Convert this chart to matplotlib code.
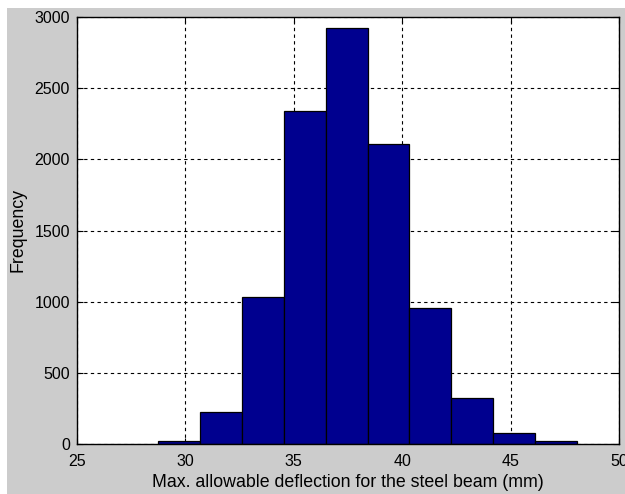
import matplotlib
matplotlib.use('Agg')
import matplotlib.pyplot as plt
import numpy as np
from matplotlib.patches import Rectangle

plt.rcParams['font.family'] = ['Liberation Sans', 'DejaVu Sans']

# MATLAB hist() with 10 bins
bin_edges = [28.75, 30.68, 32.61, 34.54, 36.47, 38.40, 40.33, 42.26, 44.19, 46.12, 48.05]
counts = [18, 222, 1035, 2342, 2920, 2110, 955, 322, 78, 22]

fig = plt.figure(figsize=(6.25, 4.94), dpi=100, facecolor='white')
# grey figure area, image is cropped with a thin white border top/left
fig.patches.append(Rectangle((7 / 625, 0), 1, (494 - 8) / 494, transform=fig.transFigure,
                             facecolor='#cccccc', edgecolor='none', zorder=-10))

ax = fig.add_axes([77 / 625, (494 - 444) / 494, (619 - 77) / 625, (444 - 17) / 494])
ax.set_zorder(1)
ax.set_facecolor('white')

widths = np.diff(bin_edges)
ax.bar(bin_edges[:-1], counts, width=widths, align='edge', color='#00008f',
       edgecolor='black', linewidth=0.9, zorder=3)

ax.set_xlim(25, 50)
ax.set_ylim(0, 3000)
ax.set_xticks(np.arange(25, 51, 5))
ax.set_yticks(np.arange(0, 3001, 500))
ax.grid(True, color='black', linestyle=(0, (3, 3)), linewidth=0.8, zorder=1)
ax.set_axisbelow(True)
ax.tick_params(direction='in', top=True, right=True, length=4, labelsize=11.5, colors='black')
ax.tick_params(axis='x', pad=7)
ax.tick_params(axis='y', pad=5)
for s in ax.spines.values():
    s.set_linewidth(1.0)
    s.set_zorder(4)

ax.set_xlabel('Max. allowable deflection for the steel beam (mm)', fontsize=12.8, labelpad=4)
ax.set_ylabel('Frequency', fontsize=12.8, labelpad=6)

fig.savefig('out.png', dpi=100, facecolor='white')
